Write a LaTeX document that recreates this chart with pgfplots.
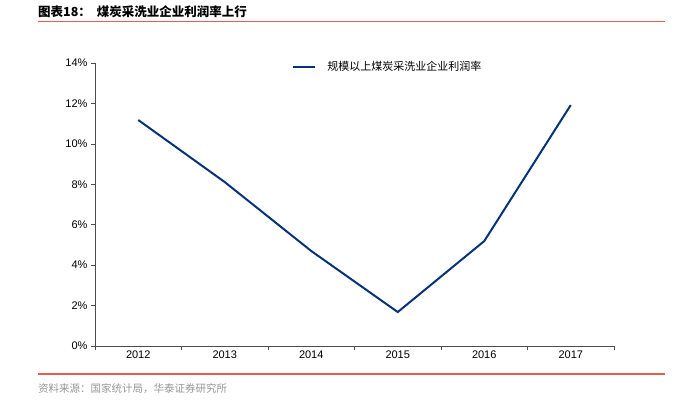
\documentclass[border=0pt]{standalone}
\usepackage{fontspec}
\setmainfont{Liberation Sans}
\newfontfamily\cjk{Noto Sans CJK SC}
\usepackage{pgfplots}
\pgfplotsset{compat=1.18}
\definecolor{lineblue}{RGB}{8,50,120}
\definecolor{hdrred}{RGB}{232,92,80}
\definecolor{srcgray}{RGB}{150,150,150}
\begin{document}
\begin{tikzpicture}[x=1pt,y=-1pt]
\path[use as bounding box] (0,0) rectangle (674,402);
\node[anchor=west,inner sep=0pt,font=\cjk\bfseries\fontsize{12.5}{13}\selectfont] at (38,12) {图表18：\hspace{6pt}煤炭采洗业企业利润率上行};
\draw[hdrred,line width=1.2pt] (38,21.5) -- (665,21.5);
\draw[hdrred,line width=1.2pt] (38,374) -- (665,374);
\node[anchor=west,inner sep=0pt,text=srcgray,font=\cjk\fontsize{10.5}{11}\selectfont] at (38,389) {资料来源：国家统计局，华泰证券研究所};
\begin{axis}[
  at={(95pt,-346pt)}, anchor=south west,
  scale only axis, width=519pt, height=283pt,
  xmin=-0.5, xmax=5.5, ymin=0, ymax=0.14,
  axis x line*=bottom, axis y line*=left,
  axis line style={black!70,line width=0.6pt},
  xtick={-0.5,0.5,1.5,2.5,3.5,4.5,5.5}, xticklabels={},
  extra x ticks={0,1,2,3,4,5},
  extra x tick labels={2012,2013,2014,2015,2016,2017},
  extra x tick style={major tick length=0pt},
  ytick={0,0.02,0.04,0.06,0.08,0.1,0.12,0.14},
  yticklabels={0\%,2\%,4\%,6\%,8\%,10\%,12\%,14\%},
  tick style={black!70,line width=0.6pt},
  major tick length=4pt,
  tick align=outside,
  ticklabel style={font=\fontsize{11}{12}\selectfont},
  xticklabel style={yshift=-1pt},
  legend style={draw=none,fill=none,at={(0.378,0.986)},anchor=west,font=\cjk\fontsize{11}{12}\selectfont,inner sep=1pt},
  legend cell align=left,
  legend image code/.code={\draw[#1,line width=2pt] (0pt,0pt) -- (22pt,0pt);},
  legend style={/tikz/every even column/.append style={column sep=0pt}, nodes={inner sep=1pt}},
  legend style={text depth=0pt},
]
\addplot[lineblue,line width=2pt] coordinates {(0,0.1118) (1,0.0811) (2,0.0470) (3,0.0168) (4,0.0519) (5,0.1192)};
\addlegendentry{\hspace{10pt}规模以上煤炭采洗业企业利润率}
\end{axis}
\end{tikzpicture}
\end{document}
